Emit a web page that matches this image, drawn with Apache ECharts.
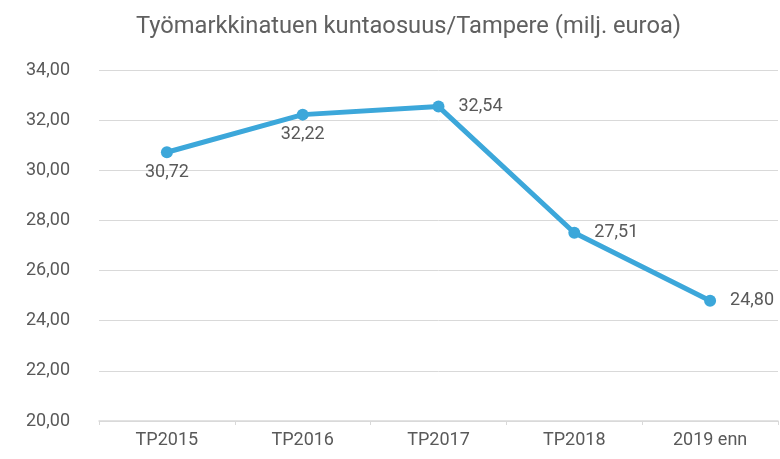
<!DOCTYPE html>
<html><head><meta charset="utf-8">
<script src="https://cdn.jsdelivr.net/npm/echarts@6/dist/echarts.min.js"></script>
<style>html,body{margin:0;padding:0;background:#fff}#c{width:780px;height:459px}</style>
</head><body><div id="c"></div>
<script>
var categories = ['TP2015','TP2016','TP2017','TP2018','2019 enn'];
var values = [30.72, 32.22, 32.54, 27.51, 24.80];
var labelPositions = ['bottom','bottom','right','right','right'];
var titleText = 'Työmarkkinatuen kuntaosuus/Tampere (milj. euroa)';

function fmt(v){ return v.toFixed(2).replace('.', ','); }

var chart = echarts.init(document.getElementById('c'), null, {renderer:'canvas'});
var font = 'Roboto';
chart.setOption({
  animation:false,
  title:{ text:titleText, left:131, top:10,
    textStyle:{ fontFamily:font, fontWeight:'normal', fontSize:23.7, color:'#606060' } },
  grid:{ left:99, right:2, top:70, bottom:38, containLabel:false },
  xAxis:{ type:'category', data:categories, boundaryGap:true,
    axisLine:{ lineStyle:{ color:'#d9d9d9', width:1.5 } },
    axisTick:{ show:true, length:4, lineStyle:{ color:'#d9d9d9' } },
    axisLabel:{ fontFamily:font, fontSize:18, color:'#595959', margin:10 } },
  yAxis:{ type:'value', min:20, max:34, interval:2,
    axisLine:{ show:false }, axisTick:{ show:false },
    splitLine:{ lineStyle:{ color:'#d9d9d9', width:1 } },
    axisLabel:{ fontFamily:font, fontSize:18, color:'#595959', margin:29,
      formatter:function(v){ return fmt(v); } } },
  series:[{ type:'line', data:values.map(function(v,i){
      return { value:v, label:{ position:labelPositions[i], distance:(labelPositions[i]==='right'?14:5) } }; }),
    symbol:'circle', symbolSize:12,
    lineStyle:{ color:'#3CA7DA', width:5 },
    itemStyle:{ color:'#3CA7DA' },
    label:{ show:true, fontFamily:font, fontSize:18, color:'#595959',
      formatter:function(p){ return fmt(p.value); } } }]
});
</script></body></html>
